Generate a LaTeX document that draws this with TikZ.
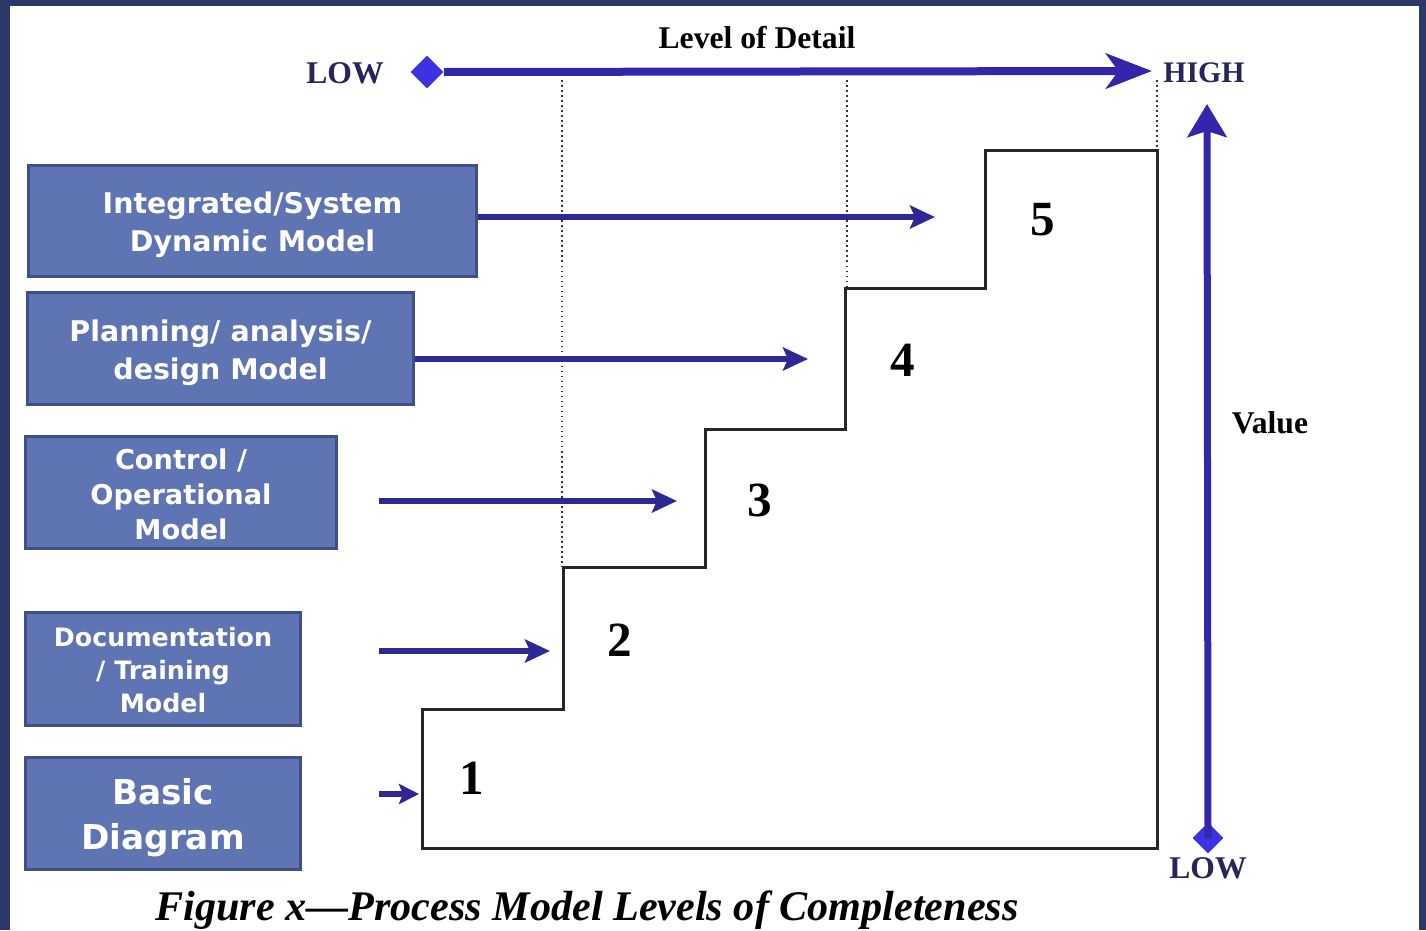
\documentclass[tikz,border=0pt]{standalone}
\usepackage{fontspec}
\setmainfont{Liberation Serif}
\newfontfamily\boxfont{DejaVu Sans}
\usetikzlibrary{arrows.meta,shapes.geometric}

\definecolor{navyframe}{RGB}{44,56,104}
\definecolor{boxfill}{RGB}{95,117,179}
\definecolor{boxline}{RGB}{62,80,135}
\definecolor{axisblue}{RGB}{50,38,170}
\definecolor{markblue}{RGB}{60,50,225}
\definecolor{stepblue}{RGB}{45,40,150}
\definecolor{labelnavy}{RGB}{38,38,92}

\tikzset{
  modelbox/.style={draw=boxline,fill=boxfill,line width=0.06cm,text=white,align=center,inner sep=0pt},
  modelarrow/.style={draw=stepblue,line width=0.11cm,-{Stealth[length=0.5cm,width=0.46cm,inset=0.1cm]}},
  stair/.style={draw=black!85,line width=0.06cm},
  guide/.style={draw=black!80,dotted,line width=0.03cm},
  levelnum/.style={font=\fontsize{28}{28}\selectfont\bfseries},
  axislabel/.style={font=\fontsize{18}{18}\selectfont\bfseries},
}

\begin{document}
\begin{tikzpicture}[x=0.02cm,y=-0.02cm]
\clip (0,0) rectangle (1426,930);
% frame
\fill[navyframe] (0,0) rectangle (1426,930);
\fill[white] (10,6) rectangle (1419,940);

% model boxes
\node[modelbox,minimum width=8.98cm,minimum height=2.24cm,font=\boxfont\bfseries\fontsize{16.2}{21.5}\selectfont] (box1) at (252.5,221) {\rule{0pt}{17pt}Integrated/System\\Dynamic Model};
\node[modelbox,minimum width=7.74cm,minimum height=2.26cm,font=\boxfont\bfseries\fontsize{16.2}{21.5}\selectfont] (box2) at (220.5,348.5) {\rule{0pt}{17pt}Planning/ analysis/\\design Model};
\node[modelbox,minimum width=6.24cm,minimum height=2.26cm,font=\boxfont\bfseries\fontsize{15.5}{19.8}\selectfont] (box3) at (181,492.5) {\rule{0pt}{14pt}Control /\\Operational\\Model};
\node[modelbox,minimum width=5.52cm,minimum height=2.26cm,font=\boxfont\bfseries\fontsize{14.4}{19}\selectfont] (box4) at (163,668.5) {\rule{0pt}{12.7pt}Documentation\\/ Training\\Model};
\node[modelbox,minimum width=5.52cm,minimum height=2.24cm,font=\boxfont\bfseries\fontsize{19.5}{25.5}\selectfont] (box5) at (163,813) {\rule{0pt}{20.5pt}Basic\\Diagram};

% staircase
\draw[stair] (422,848) -- (422,709) -- (563,709) -- (563,567) -- (705,567) -- (705,429)
  -- (845,429) -- (845,288) -- (985,288) -- (985,150) -- (1157,150) -- (1157,848) -- cycle;
\draw[guide] (562,80) -- (562,567);
\draw[guide] (847,80) -- (847,288);
\draw[guide] (1157,80) -- (1157,150);

\node[levelnum] (n1) at (472,778) {1};
\node[levelnum] (n2) at (620,640) {2};
\node[levelnum] (n3) at (760,500) {3};
\node[levelnum] (n4) at (903,360) {4};
\node[levelnum] (n5) at (1043,220) {5};

% arrows into the steps
\coordinate (t1) at (935,217);
\coordinate (t2) at (808,359);
\coordinate (s3) at (379,501);
\coordinate (t3) at (677,501);
\coordinate (s4) at (379,651);
\coordinate (t4) at (550,651);
\coordinate (s5) at (379,794);
\coordinate (t5) at (419,794);
\draw[modelarrow] (box1.east |- t1) -- (t1);
\draw[modelarrow] (box2.east |- t2) -- (t2);
\draw[modelarrow] (s3) -- (t3);
\draw[modelarrow] (s4) -- (t4);
\draw[modelarrow,-{Stealth[length=0.4cm,width=0.4cm,inset=0.08cm]}] (s5) -- (t5);

% level of detail axis
\node[diamond,fill=markblue,minimum size=0.66cm,inner sep=0pt] (lowmark) at (427,72) {};
\coordinate (hightip) at (1152,71);
\draw[axisblue,line width=0.16cm,-{Stealth[length=0.92cm,width=0.7cm,inset=0.25cm]}] (lowmark.east) -- (hightip);
\node[axislabel,text=labelnavy] (lowtop) at (345,73) {LOW};
\node[axislabel] (detail) at (757,38) {Level of Detail};
\node[axislabel,text=labelnavy,font=\fontsize{17}{17}\selectfont\bfseries] (hightop) at (1204,73) {HIGH};

% value axis
\node[diamond,fill=markblue,minimum size=0.62cm,inner sep=0pt] (valmark) at (1208,838) {};
\coordinate (valtip) at (1207,104);
\draw[axisblue,line width=0.14cm,-{Stealth[length=0.66cm,width=0.78cm,inset=0.12cm]}] (valmark.center) -- (valtip);
\node[axislabel,text=labelnavy] (lowside) at (1208,868) {LOW};
\node[axislabel] (value) at (1270,423) {Value};

% caption
\node[anchor=base west,inner sep=0pt,font=\fontsize{24}{24}\selectfont\bfseries\itshape] (caption) at (155,920) {Figure x—Process Model Levels of Completeness};
\end{tikzpicture}
\end{document}
